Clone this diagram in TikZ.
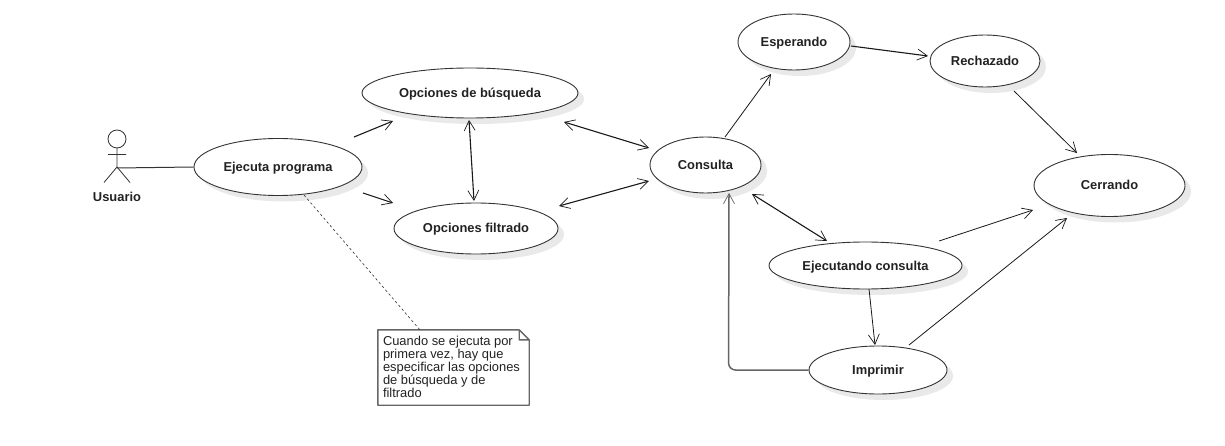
\documentclass[tikz,border=0pt]{standalone}
\usepackage{fontspec}
\setmainfont{Liberation Sans}
\usetikzlibrary{arrows.meta,calc,shadows,shapes.geometric}
\definecolor{inkc}{HTML}{222222}
\definecolor{edgec}{HTML}{333333}
\definecolor{shadowc}{HTML}{E9E9E9}
\definecolor{grayline}{HTML}{666666}
\tikzset{
  usecase/.style={ellipse,draw=edgec,line width=0.9pt,fill=white,inner sep=0pt,
    font=\fontsize{12.9}{15}\selectfont\bfseries,text=inkc,text height=9pt,text depth=0pt,
    drop shadow={shadow xshift=6pt,shadow yshift=-6pt,fill=shadowc,opacity=1}},
  opentip/.style={-{Straight Barb[length=10pt,width=11pt,line width=0.7pt]}},
  bothtip/.style={{Straight Barb[length=10pt,width=11pt,line width=0.7pt]}-{Straight Barb[length=10pt,width=11pt,line width=0.7pt]}},
  flow/.style={opentip,line width=0.8pt,draw=black!90},
  bothflow/.style={bothtip,line width=1.1pt,draw=black!90},
  actorline/.style={line width=0.8pt,draw=edgec},
  notetext/.style={inner sep=0pt,align=left,anchor=north west,text=inkc,
    font=\fontsize{12.9}{13}\selectfont},
  labeltext/.style={inner sep=0pt,text=inkc,font=\fontsize{12.9}{15}\selectfont\bfseries},
}
\begin{document}
\begin{tikzpicture}[x=1pt,y=-1pt]
\useasboundingbox[fill=white] (0,0) rectangle (1225,446);
% use cases
\node[usecase,minimum width=168pt,minimum height=57pt] (ejec) at (278,167) {Ejecuta programa};
\node[usecase,minimum width=216pt,minimum height=50pt] (busq) at (470,93) {Opciones de búsqueda};
\node[usecase,minimum width=164pt,minimum height=51pt] (filt) at (476,228.5) {Opciones filtrado};
\node[usecase,minimum width=111pt,minimum height=56pt] (cons) at (705.5,165) {Consulta};
\node[usecase,minimum width=112pt,minimum height=56pt] (espe) at (794,42) {Esperando};
\node[usecase,minimum width=110pt,minimum height=52pt] (rech) at (985,61) {Rechazado};
\node[usecase,minimum width=151pt,minimum height=62pt] (cerr) at (1109.5,185.5) {Cerrando};
\node[usecase,minimum width=193pt,minimum height=47pt] (ejcn) at (865.5,265.5) {Ejecutando consulta};
\node[usecase,minimum width=138pt,minimum height=48pt] (impr) at (878,370) {Imprimir};
% actor
\coordinate (actor) at (117,167);
\draw[actorline] (117,139) circle (9);
\draw[actorline] (117,148) -- (actor) (108,154.5) -- (126,154.5)
  (104,182.5) -- (actor) -- (130,182.5);
\node[labeltext] (usuario) at (117,196.5) {Usuario};
\draw[line width=1pt,draw=edgec] (actor) ++(0,1) -- (ejec.west);
% note
\node[minimum width=151pt,minimum height=75pt,inner sep=0pt] (note) at (453.5,367.5) {};
\node[notetext] (notet) at ($(note.north west)+(5,6)$) {Cuando se ejecuta por\\primera vez, hay que\\especificar las opciones\\de búsqueda y de\\filtrado};
\draw[line width=1.4pt,draw=grayline,line join=round]
  ($(note.north east)+(-10,0)$) -- (note.north west) -- (note.south west)
  -- (note.south east) -- ($(note.north east)+(0,10)$) -- ($(note.north east)+(-10,0)$)
  -- ($(note.north east)+(-10,10)$) -- ($(note.north east)+(0,10)$);
\draw[dashed,dash pattern=on 2.5pt off 2.5pt,line width=0.6pt,draw=edgec]
  ($(ejec)+(26,28)$) -- ($(note.north west)+(42,0)$);
% connectors
\draw[flow,line width=1.1pt] ($(ejec)+(76,-30)$) -- ($(busq)+(-77,28)$);
\draw[flow,line width=1.1pt] ($(ejec)+(85,26)$) -- ($(filt)+(-83,-25.5)$);
\draw[bothflow] ($(busq)+(-1,27)$) -- ($(filt)+(-2,-27.5)$);
\draw[bothflow] ($(busq)+(94,29)$) -- ($(cons)+(-56.5,-17)$);
\draw[bothflow] ($(filt)+(83,-22.5)$) -- ($(cons)+(-56.5,16)$);
\draw[flow] ($(cons)+(19.5,-28)$) -- ($(espe)+(-23,32)$);
\draw[flow,line width=1.1pt] ($(espe)+(57,4)$) -- ($(rech)+(-57,-5)$);
\draw[flow] ($(rech)+(29,30)$) -- ($(cerr)+(-32.5,-32.5)$);
\draw[flow] ($(ejcn)+(73.5,-24.5)$) -- ($(cerr)+(-76.5,24.5)$);
\draw[flow] ($(impr)+(31,-25)$) -- ($(cerr)+(-42.5,32.5)$);
\draw[bothflow] ($(cons)+(46.5,29)$) -- ($(ejcn)+(-38.5,-24.5)$);
\draw[flow] ($(ejcn)+(3.5,23.5)$) -- ($(impr)+(-3,-25)$);
\draw[opentip,line width=1.5pt,draw=grayline,rounded corners=7pt]
  (impr.west) -- ($(impr.west)+(-80,0)$) -- ($(cons)+(23.5,28)$);
\end{tikzpicture}
\end{document}
